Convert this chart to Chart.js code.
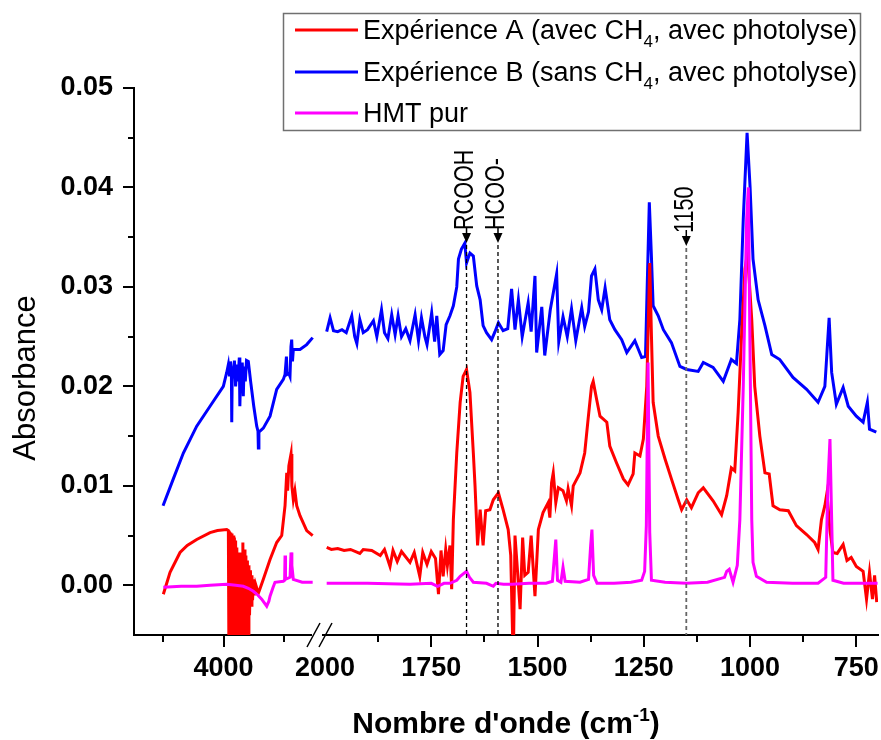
<!DOCTYPE html>
<html>
<head>
<meta charset="utf-8">
<script src="https://cdn.jsdelivr.net/npm/chart.js@4.4.0/dist/chart.umd.min.js"></script>
<style>
  html, body { margin: 0; padding: 0; background: #fff; }
  #wrap { width: 881px; height: 740px; }
</style>
</head>
<body>
<div id="wrap"><canvas id="ir" width="881" height="740"></canvas></div>
<script>
/* IR spectra, broken wavenumber axis (5000-2500 squeezed | 2000-700) */

const FONT = 'Arial, "Liberation Sans", sans-serif';

// x ticks (cm-1) and y ticks
const xTickWn = [4000, 2000, 1750, 1500, 1250, 1000, 750];
const xMinorWn = [5000, 3000, 1875, 1625, 1375, 1125, 875];
const yTicks = [0, 0.01, 0.02, 0.03, 0.04, 0.05];

const legendText = [
    'Expérience A (avec CH4, avec photolyse)',
    'Expérience B (sans CH4, avec photolyse)',
    'HMT pur'
];
const colors = ['#ff0000', '#0000ff', '#ff00ff'];

const markerWn = [1667, 1593, 1150];
const markerText = ['RCOOH', 'HCOO-', '1150'];

// Expérience A (red)
const expAWn = [4995, 4884, 4719, 4600, 4443, 4223, 4100, 3947, 3920, 3910, 3900, 3890, 3880, 3870, 3860, 3850,
    3840, 3830, 3820, 3810, 3800, 3790, 3780, 3770, 3760, 3750, 3740, 3730, 3720, 3710, 3700, 3690, 3680, 3670,
    3655, 3645, 3630, 3620, 3605, 3595, 3580, 3570, 3555, 3545, 3530, 3520, 3505, 3490, 3470, 3440, 3424, 3400,
    3342, 3231, 3121, 3038, 2983, 2955, 2940, 2920, 2884, 2870, 2846, 2820, 2790, 2736, 2625, 2526,
    1996, 1985, 1970, 1955, 1940, 1918, 1910, 1890, 1870, 1860, 1847, 1840, 1830, 1820, 1800, 1790, 1777, 1770,
    1760, 1750, 1740, 1733, 1727, 1722, 1716, 1712, 1706, 1702, 1698, 1690, 1682, 1675, 1667, 1659, 1651, 1647,
    1641, 1635, 1628, 1622, 1612, 1604, 1592, 1581, 1569, 1563, 1557, 1553, 1548, 1541, 1535, 1530, 1522, 1515,
    1506, 1498, 1487, 1475, 1471, 1467, 1463, 1457, 1451, 1440, 1432, 1428, 1420, 1416, 1400, 1389, 1381, 1373,
    1369, 1361, 1353, 1337, 1330, 1314, 1298, 1287, 1275, 1271, 1259, 1251, 1243, 1236, 1232, 1228, 1216, 1200,
    1185, 1169, 1161, 1149, 1138, 1122, 1110, 1087, 1067, 1055, 1044, 1036, 1028, 1020, 1012, 1006, 996, 989,
    977, 965, 955, 946, 930, 910, 891, 867, 848, 840, 832, 824, 819, 812, 805, 795, 781, 772, 762, 750, 734, 726,
    719, 712, 707, 702];
const expAAbs = [-0.0009, 0.0013, 0.0033, 0.0040, 0.0046, 0.0053, 0.0055, 0.0056, 0.0055, -0.008, 0.0054, -0.008,
    0.0053, -0.008, 0.0052, -0.008, 0.0050, -0.008, 0.0048, -0.008, 0.0045, -0.008, 0.0038, -0.008, 0.0030, -0.008,
    0.0033, -0.008, 0.0028, -0.008, 0.0025, -0.008, 0.0043, -0.008, 0.0036, -0.008, 0.0030, -0.008, 0.0025, -0.008,
    0.0020, -0.003, 0.0015, -0.002, 0.0010, -0.0015, 0.0006, -0.001, 0.0001, -0.0005, -0.0008, -0.0004,
    0.0006, 0.0026, 0.0043, 0.0050, 0.0080, 0.0113, 0.0095, 0.0120, 0.0132, 0.0100, 0.0086, 0.0095, 0.0080,
    0.0070, 0.0055, 0.0050,
    0.0038, 0.0036, 0.0037, 0.0035, 0.0036, 0.0032, 0.0036, 0.0035, 0.0030, 0.0036, 0.0019, 0.0035, 0.0024,
    0.0034, 0.0023, 0.0033, 0.0009, 0.0033, 0.0021, 0.0034, 0.0027, -0.0009, 0.0035, 0.0009, 0.0036, 0.0020,
    0.0040, -0.0004, 0.0066, 0.0133, 0.0184, 0.0210, 0.0217, 0.0194, 0.0133, 0.0100, 0.0040, 0.0076, 0.0040,
    0.0075, 0.0076, 0.0086, 0.0093, 0.0076, 0.0056, 0.0030, -0.008, 0.0050, 0.0020, -0.0024, 0.0048, 0.0010,
    0.0013, 0.0050, -0.0011, 0.0056, 0.0073, 0.0083, 0.0068, 0.0103, 0.0113, 0.0083, 0.0098, 0.0095, 0.0085,
    0.0097, 0.0080, 0.0100, 0.0113, 0.0133, 0.0167, 0.0200, 0.0205, 0.0187, 0.0170, 0.0164, 0.0140, 0.0123,
    0.0107, 0.0101, 0.0112, 0.0133, 0.0130, 0.0147, 0.0200, 0.0324, 0.0251, 0.0184, 0.0150, 0.0127, 0.0107,
    0.0086, 0.0076, 0.0086, 0.0078, 0.0093, 0.0098, 0.0085, 0.0071, 0.0090, 0.0118, 0.0115, 0.0174, 0.0251,
    0.0318, 0.0334, 0.0267, 0.0200, 0.0150, 0.0113, 0.0112, 0.0080, 0.0076, 0.0075, 0.0060, 0.0051, 0.0043,
    0.0036, 0.0066, 0.0080, 0.0093, 0.0055, 0.0033, 0.0032, 0.0041, 0.0025, 0.0028, 0.0019, 0.0014, -0.0014,
    0.0013, -0.0014, 0.0010, -0.0017];

// Expérience B (blue)
const expBWn = [5000, 4830, 4664, 4443, 4223, 4003, 3947, 3920, 3900, 3885, 3870, 3864, 3855, 3840, 3820, 3800,
    3780, 3760, 3739, 3730, 3715, 3700, 3690, 3673, 3660, 3640, 3620, 3590, 3550, 3500, 3451, 3430, 3424, 3415,
    3342, 3231, 3121, 3011, 2983, 2960, 2950, 2920, 2901, 2885, 2873, 2860, 2846, 2736, 2625, 2526,
    1996, 1988, 1980, 1970, 1960, 1950, 1937, 1930, 1925, 1918, 1910, 1900, 1886, 1878, 1867, 1860, 1852, 1843,
    1835, 1828, 1820, 1810, 1800, 1788, 1780, 1773, 1765, 1760, 1749, 1742, 1737, 1730, 1722, 1715, 1706, 1698,
    1690, 1686, 1679, 1671, 1667, 1659, 1651, 1643, 1635, 1628, 1620, 1608, 1600, 1592, 1581, 1570, 1561, 1553,
    1545, 1536, 1522, 1515, 1506, 1502, 1490, 1483, 1470, 1455, 1450, 1440, 1430, 1420, 1410, 1396, 1389, 1380,
    1373, 1365, 1357, 1349, 1341, 1330, 1318, 1302, 1290, 1271, 1255, 1246, 1242, 1237, 1232, 1228, 1216, 1204,
    1185, 1165, 1149, 1122, 1110, 1087, 1063, 1044, 1032, 1024, 1016, 1007, 1000, 993, 981, 965, 949, 930, 899,
    867, 840, 824, 814, 808, 797, 781, 769, 750, 734, 724, 719, 703];
const expBAbs = [0.0080, 0.0107, 0.0133, 0.0160, 0.0180, 0.0200, 0.0214, 0.0222, 0.0210, 0.0225, 0.0215, 0.0164,
    0.0220, 0.0208, 0.0226, 0.0200, 0.0222, 0.0205, 0.0229, 0.0180, 0.0218, 0.0200, 0.0224, 0.0190, 0.0220,
    0.0205, 0.0226, 0.0225, 0.0204, 0.0180, 0.0160, 0.0155, 0.0138, 0.0154, 0.0158, 0.0170, 0.0197, 0.0207,
    0.0212, 0.0230, 0.0212, 0.0213, 0.0210, 0.0240, 0.0247, 0.0225, 0.0237, 0.0237, 0.0242, 0.0249,
    0.0255, 0.0269, 0.0256, 0.0255, 0.0257, 0.0254, 0.0271, 0.0250, 0.0243, 0.0267, 0.0254, 0.0257, 0.0266,
    0.0250, 0.0277, 0.0254, 0.0248, 0.0272, 0.0252, 0.0271, 0.0250, 0.0258, 0.0246, 0.0272, 0.0246, 0.0269,
    0.0250, 0.0242, 0.0274, 0.0245, 0.0271, 0.0232, 0.0236, 0.0262, 0.0271, 0.0281, 0.0300, 0.0328, 0.0338,
    0.0344, 0.0324, 0.0334, 0.0331, 0.0301, 0.0287, 0.0261, 0.0254, 0.0247, 0.0255, 0.0264, 0.0256, 0.0258,
    0.0298, 0.0257, 0.0287, 0.0250, 0.0284, 0.0255, 0.0311, 0.0234, 0.0280, 0.0231, 0.0277, 0.0313, 0.0245,
    0.0270, 0.0250, 0.0278, 0.0246, 0.0279, 0.0260, 0.0275, 0.0311, 0.0318, 0.0287, 0.0277, 0.0299, 0.0267,
    0.0257, 0.0247, 0.0234, 0.0246, 0.0229, 0.0230, 0.0300, 0.0385, 0.0330, 0.0281, 0.0271, 0.0257, 0.0244,
    0.0220, 0.0217, 0.0215, 0.0224, 0.0219, 0.0205, 0.0227, 0.0223, 0.0267, 0.0368, 0.0455, 0.0401, 0.0328,
    0.0287, 0.0261, 0.0232, 0.0227, 0.0209, 0.0197, 0.0184, 0.0200, 0.0269, 0.0214, 0.0182, 0.0199, 0.0180,
    0.0170, 0.0164, 0.0184, 0.0157, 0.0154];

// HMT pur (magenta)
const hmtWn = [4995, 4700, 4443, 4223, 3947, 3800, 3673, 3590, 3507, 3430, 3369, 3286, 3250, 3231, 3180, 3149,
    3011, 2990, 2983, 2975, 2900, 2884, 2870, 2846, 2700, 2526,
    1996, 1900, 1800, 1750, 1735, 1720, 1706, 1690, 1682, 1667, 1660, 1651, 1620, 1604, 1598, 1580, 1560, 1520,
    1480, 1465, 1460, 1457, 1453, 1445, 1440, 1435, 1400, 1380, 1375, 1372, 1368, 1360, 1320, 1280, 1255, 1248,
    1244, 1240, 1236, 1232, 1200, 1150, 1100, 1060, 1055, 1049, 1040, 1030, 1024, 1016, 1008, 1004, 1000, 996,
    993, 985, 961, 900, 840, 822, 817, 812, 808, 805, 780, 740, 700];
const hmtAbs = [-0.0002, -0.0001, -0.0001, 0.0000, 0.0001, 0.0000, -0.0001, -0.0003, -0.0006, -0.0010, -0.0014,
    -0.0021, -0.0016, -0.0011, -0.0002, 0.0003, 0.0004, 0.0005, 0.0030, 0.0006, 0.0008, 0.0033, 0.0020, 0.0006,
    0.0003, 0.0003,
    0.0002, 0.0002, 0.0001, 0.0002, -0.0001, 0.0002, 0.0002, 0.0005, 0.0009, 0.0014, 0.0008, 0.0003, 0.0002,
    -0.0001, 0.0002, 0.0001, 0.0001, 0.0002, 0.0002, 0.0004, 0.0030, 0.0046, 0.0005, 0.0003, 0.0018, 0.0004,
    0.0003, 0.0006, 0.0040, 0.0056, 0.0010, 0.0002, 0.0002, 0.0003, 0.0005, 0.0014, 0.0060, 0.0224, 0.0053,
    0.0005, 0.0003, 0.0002, 0.0003, 0.0008, 0.0014, 0.0016, 0.0003, 0.0020, 0.0066, 0.0200, 0.0368, 0.0400,
    0.0234, 0.0066, 0.0023, 0.0009, 0.0003, 0.0002, 0.0002, 0.0008, 0.0100, 0.0147, 0.0066, 0.0005, 0.0002,
    0.0002, 0.0002];

// broken axis: right part is 2000 -> 700 linear, left part squeezed
const BREAK_WN = 2000;
const LEFT_SQUEEZE = 0.1423;
function axisPos(wn) {
    if (wn <= BREAK_WN) return BREAK_WN - wn;
    return -238.7 + (4000 - wn) * LEFT_SQUEEZE;
}

function toPoints(wns, vals) {
    const pts = [];
    for (let i = 0; i < wns.length; i++) {
        if (i > 0 && wns[i - 1] > BREAK_WN && wns[i] <= BREAK_WN) pts.push({ x: -15, y: null });
        pts.push({ x: axisPos(wns[i]), y: vals[i] });
    }
    return pts;
}

function drawWithSub(ctx, str, x, y, font, subFont) {
    const parts = str.split('CH4');
    ctx.font = font;
    if (parts.length === 1) { ctx.fillText(str, x, y); return; }
    ctx.fillText(parts[0] + 'CH', x, y);
    x += ctx.measureText(parts[0] + 'CH').width;
    ctx.font = subFont;
    ctx.fillText('4', x, y + 8);
    x += ctx.measureText('4').width;
    ctx.font = font;
    ctx.fillText(parts[1], x, y);
}

const decor = {
    id: 'decor',
    afterDraw(chart) {
        const { ctx, chartArea: a, scales: { x, y } } = chart;
        ctx.save();

        // tick marks (outside)
        ctx.strokeStyle = '#000';
        ctx.lineWidth = 2;
        ctx.beginPath();
        yTicks.forEach(v => {
            const py = Math.round(y.getPixelForValue(v));
            ctx.moveTo(a.left - 11, py); ctx.lineTo(a.left, py);
            if (v < 0.05) {
                const pm = Math.round(y.getPixelForValue(v + 0.005));
                ctx.moveTo(a.left - 6, pm); ctx.lineTo(a.left, pm);
            }
        });
        xTickWn.forEach(w => {
            if (w === BREAK_WN) return;
            const px = Math.round(x.getPixelForValue(axisPos(w)));
            ctx.moveTo(px, a.bottom); ctx.lineTo(px, a.bottom + 12);
        });
        xMinorWn.forEach(w => {
            const px = Math.round(x.getPixelForValue(axisPos(w)));
            ctx.moveTo(px, a.bottom); ctx.lineTo(px, a.bottom + 7);
        });
        ctx.stroke();

        // axis break
        ctx.fillStyle = '#fff';
        ctx.fillRect(312, a.bottom - 3, 10, 6);
        ctx.lineWidth = 1.5;
        ctx.beginPath();
        ctx.moveTo(307, a.bottom + 12); ctx.lineTo(320, a.bottom - 12);
        ctx.moveTo(319, a.bottom + 12); ctx.lineTo(332, a.bottom - 12);
        ctx.stroke();

        // band markers
        markerWn.forEach((w, i) => {
            const px = x.getPixelForValue(axisPos(w));
            const tipY = i === 2 ? 246 : 243;
            ctx.strokeStyle = i === 2 ? '#666' : '#000';
            ctx.lineWidth = i === 2 ? 1.8 : 1.3;
            ctx.setLineDash([4, 3]);
            ctx.beginPath();
            ctx.moveTo(px, tipY + 2); ctx.lineTo(px, a.bottom);
            ctx.stroke();
            ctx.setLineDash([]);
            ctx.fillStyle = '#000';
            ctx.beginPath();
            ctx.moveTo(px, tipY); ctx.lineTo(px - 4.5, tipY - 10); ctx.lineTo(px + 4.5, tipY - 10);
            ctx.closePath(); ctx.fill();
            ctx.strokeStyle = '#000';
            ctx.lineWidth = 1.5;
            ctx.beginPath(); ctx.moveTo(px, tipY - 10); ctx.lineTo(px, tipY - 16); ctx.stroke();
            ctx.save();
            ctx.translate(px - 1, tipY - 13);
            ctx.rotate(-Math.PI / 2);
            ctx.scale(0.8, 1);
            ctx.font = '27px ' + FONT;
            ctx.textAlign = 'left';
            ctx.textBaseline = 'middle';
            ctx.fillText(markerText[i], 0, 0);
            ctx.restore();
        });

        // legend
        ctx.strokeStyle = '#707070';
        ctx.lineWidth = 1.5;
        ctx.strokeRect(283.5, 13.5, 577, 117);
        const rows = [30, 72, 113];
        legendText.forEach((t, i) => {
            ctx.strokeStyle = colors[i];
            ctx.lineWidth = 3;
            ctx.beginPath(); ctx.moveTo(295, rows[i]); ctx.lineTo(358, rows[i]); ctx.stroke();
            ctx.fillStyle = '#000';
            ctx.textAlign = 'left';
            ctx.textBaseline = 'alphabetic';
            drawWithSub(ctx, t, 363, rows[i] + 9, '27px ' + FONT, '17px ' + FONT);
        });

        // axis titles
        ctx.fillStyle = '#000';
        ctx.textBaseline = 'alphabetic';
        const main1 = "Nombre d'onde (cm", sup = '-1', main2 = ')';
        const bold = 'bold 30px ' + FONT, supFont = 'bold 19px ' + FONT;
        ctx.font = bold;
        const w1 = ctx.measureText(main1).width, w3 = ctx.measureText(main2).width;
        ctx.font = supFont;
        const w2 = ctx.measureText(sup).width;
        let tx = (a.left + a.right) / 2 - (w1 + w2 + w3) / 2;
        ctx.font = bold; ctx.textAlign = 'left';
        ctx.fillText(main1, tx, 733); tx += w1;
        ctx.font = supFont; ctx.fillText(sup, tx, 721); tx += w2;
        ctx.font = bold; ctx.fillText(main2, tx, 733);

        ctx.save();
        ctx.translate(26, 378);
        ctx.rotate(-Math.PI / 2);
        ctx.font = '31px ' + FONT;
        ctx.textAlign = 'center';
        ctx.textBaseline = 'middle';
        ctx.fillText('Absorbance', 0, 0);
        ctx.restore();

        ctx.restore();
    }
};

const lineStyle = { borderWidth: 3, pointRadius: 0, tension: 0, fill: false, clip: 0, spanGaps: false };

new Chart(document.getElementById('ir'), {
    type: 'line',
    data: {
        datasets: [
            { ...lineStyle, label: legendText[2], data: toPoints(hmtWn, hmtAbs), borderColor: colors[2], order: 0 },
            { ...lineStyle, label: legendText[0], data: toPoints(expAWn, expAAbs), borderColor: colors[0], order: 1 },
            { ...lineStyle, label: legendText[1], data: toPoints(expBWn, expBAbs), borderColor: colors[1], order: 2 }
        ]
    },
    options: {
        responsive: false,
        animation: false,
        devicePixelRatio: 1,
        layout: { padding: { top: 88, right: 3, left: 0, bottom: 0 } },
        plugins: { legend: { display: false }, tooltip: { enabled: false } },
        scales: {
            x: {
                type: 'linear',
                min: axisPos(5480),
                max: axisPos(699),
                grid: { display: false, drawTicks: false },
                border: { display: true, color: '#000', width: 2 },
                afterBuildTicks: s => { s.ticks = xTickWn.map(w => ({ value: axisPos(w) })); },
                afterFit: s => { s.height = 105; s.paddingLeft = 0; s.paddingRight = 0; },
                ticks: {
                    autoSkip: false, maxRotation: 0, minRotation: 0, padding: 17,
                    color: '#000', font: { family: FONT, size: 27, weight: 'bold' },
                    callback: (v, i) => String(xTickWn[i])
                }
            },
            y: {
                min: -0.005,
                max: 0.05,
                grid: { display: false, drawTicks: false },
                border: { display: true, color: '#000', width: 2 },
                afterBuildTicks: s => { s.ticks = yTicks.map(v => ({ value: v })); },
                afterFit: s => { s.width = 134; s.paddingTop = 0; s.paddingBottom = 0; },
                ticks: {
                    padding: 21, color: '#000', font: { family: FONT, size: 27, weight: 'bold' },
                    callback: v => v.toFixed(2)
                }
            }
        }
    },
    plugins: [decor]
});
</script>
</body>
</html>
